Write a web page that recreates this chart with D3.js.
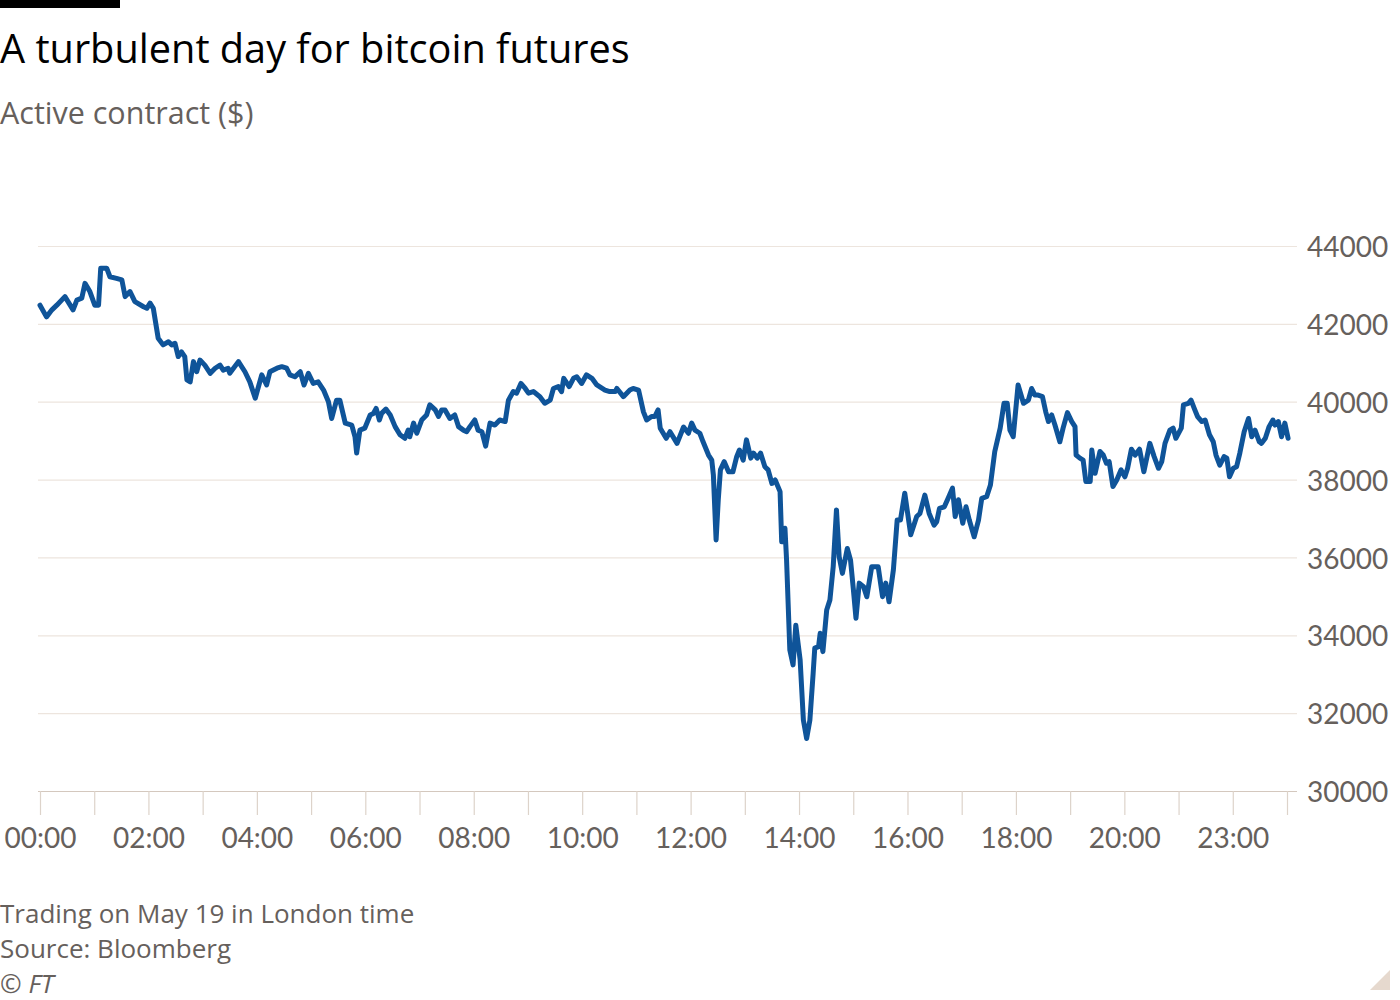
<!DOCTYPE html>
<html>
<head>
<meta charset="utf-8">
<script src="https://cdn.jsdelivr.net/npm/d3@7/dist/d3.min.js"></script>
<style>
  html, body { margin: 0; padding: 0; background: #ffffff; }
  svg { display: block; }
  text { font-family: "Open Sans", "Noto Sans", sans-serif; }
</style>
</head>
<body>
<svg id="chart" width="1400" height="1000"></svg>
<script>
// ---- Data ----
// Trading-session hours after 00:00 London time; the 22:00–23:00 break is skipped,
// so session hour 22 corresponds to 23:00.
const sessionHours = [
  0.00,0.12,0.22,0.31,0.46,0.61,0.68,0.77,0.83,0.92,1.01,1.08,1.12,1.23,1.29,1.41,1.51,1.57,1.66,1.75,
  1.91,1.97,2.03,2.09,2.18,2.27,2.37,2.43,2.49,2.55,2.61,2.67,2.71,2.77,2.83,2.89,2.95,3.04,3.14,3.23,
  3.32,3.38,3.47,3.50,3.66,3.78,3.87,3.97,4.09,4.18,4.24,4.37,4.46,4.55,4.61,4.70,4.80,4.87,4.95,5.04,
  5.13,5.23,5.32,5.38,5.47,5.53,5.63,5.75,5.81,5.84,5.90,5.99,6.09,6.15,6.20,6.26,6.30,6.38,6.46,6.55,
  6.64,6.73,6.79,6.82,6.89,6.95,7.04,7.13,7.19,7.29,7.35,7.41,7.47,7.56,7.65,7.72,7.81,7.87,7.93,8.02,
  8.08,8.15,8.22,8.30,8.39,8.48,8.58,8.64,8.73,8.79,8.87,8.95,9.01,9.10,9.22,9.31,9.41,9.47,9.56,9.62,
  9.66,9.76,9.84,9.90,9.99,10.08,10.18,10.27,10.42,10.51,10.61,10.64,10.76,10.88,10.94,11.04,11.13,11.19,11.28,11.34,
  11.40,11.44,11.55,11.62,11.75,11.87,11.96,12.02,12.08,12.17,12.23,12.33,12.39,12.42,12.47,12.51,12.55,12.62,12.70,12.78,
  12.85,12.90,12.97,13.03,13.11,13.16,13.23,13.29,13.37,13.43,13.50,13.56,13.65,13.68,13.74,13.77,13.83,13.89,13.94,14.02,
  14.08,14.14,14.20,14.26,14.29,14.36,14.39,14.44,14.51,14.57,14.63,14.69,14.74,14.80,14.89,14.95,15.00,15.05,15.11,15.19,
  15.25,15.34,15.46,15.54,15.60,15.66,15.74,15.81,15.87,15.95,16.06,16.17,16.23,16.32,16.40,16.49,16.54,16.59,16.68,16.75,
  16.83,16.88,16.94,17.02,17.08,17.14,17.23,17.31,17.37,17.46,17.53,17.61,17.71,17.78,17.84,17.89,17.95,18.04,18.14,18.23,
  18.29,18.35,18.41,18.49,18.55,18.60,18.66,18.72,18.81,18.87,18.95,19.03,19.09,19.11,19.18,19.24,19.29,19.37,19.40,19.46,
  19.55,19.61,19.67,19.72,19.79,19.86,19.94,20.01,20.06,20.13,20.20,20.28,20.36,20.47,20.55,20.63,20.69,20.75,20.84,20.90,
  20.95,21.05,21.09,21.18,21.23,21.30,21.35,21.43,21.49,21.57,21.64,21.69,21.76,21.84,21.89,21.94,22.01,22.07,22.13,22.21,
  22.29,22.35,22.41,22.49,22.53,22.60,22.67,22.74,22.78,22.84,22.90,22.96,23.02
];
const prices = [
  42480,42180,42360,42480,42700,42360,42610,42660,43040,42830,42480,42480,43430,43430,43210,43170,43130,42700,42830,42570,
  42440,42400,42530,42400,41630,41460,41540,41460,41500,41160,41280,41160,40560,40510,41030,40770,41070,40940,40730,40860,
  40940,40810,40860,40730,41030,40770,40510,40090,40690,40430,40770,40860,40900,40860,40690,40640,40770,40430,40730,40470,
  40510,40300,40000,39570,40040,40040,39450,39400,39100,38680,39270,39320,39660,39700,39830,39530,39700,39810,39660,39360,
  39150,39060,39270,39100,39450,39190,39530,39660,39920,39790,39620,39790,39790,39570,39660,39360,39270,39230,39360,39530,
  39270,39230,38860,39450,39400,39530,39490,40040,40260,40220,40470,40340,40220,40260,40130,39960,40040,40340,40390,40260,
  40600,40390,40600,40640,40470,40690,40600,40430,40300,40260,40260,40340,40130,40300,40340,40300,39740,39530,39620,39620,
  39790,39320,39060,39230,38930,39350,39190,39450,39270,39190,38970,38630,38500,38120,36450,37480,38250,38460,38200,38200,
  38590,38760,38500,39020,38550,38680,38550,38680,38330,38250,37900,37990,37690,36400,36750,35930,33620,33240,34260,33370,
  31820,31350,31820,33020,33670,33710,34050,33580,34650,34910,35760,37220,36020,35590,36230,35930,35210,34440,35340,35250,
  34990,35760,35760,34990,35340,34860,35680,36960,36960,37650,36580,37050,37130,37600,37130,36830,36920,37260,37300,37520,
  37780,37050,37480,36880,37300,36960,36530,36960,37520,37560,37860,38720,39320,39960,39960,39270,39100,40430,39960,40040,
  40340,40170,40170,40130,39740,39490,39660,39400,38970,39320,39720,39490,39360,38630,38550,38500,37950,37950,38760,38160,
  38720,38630,38420,38460,37820,37990,38250,38070,38290,38780,38630,38780,38200,38930,38590,38290,38460,38930,39270,39320,
  39060,39320,39920,39960,40040,39790,39620,39490,39530,39150,38970,38630,38370,38590,38550,38070,38290,38330,38680,39230,
  39570,39100,39270,38970,38930,39060,39360,39530,39400,39490,39100,39450,39060
];
// One tick per trading hour (no 22:00 – the session break), labels on every other tick
const tickHourLabels = ["00:00","01:00","02:00","03:00","04:00","05:00","06:00","07:00","08:00","09:00",
  "10:00","11:00","12:00","13:00","14:00","15:00","16:00","17:00","18:00","19:00","20:00","21:00","23:00","00:00"];
const shownTickLabels = ["00:00","02:00","04:00","06:00","08:00","10:00","12:00","14:00","16:00","18:00","20:00","23:00"];
const yTicks = [30000,32000,34000,36000,38000,40000,42000,44000];

const title = "A turbulent day for bitcoin futures";
const subtitle = "Active contract ($)";
const footnotes = ["Trading on May 19 in London time", "Source: Bloomberg"];
const credit = "© FT";

// ---- Drawing ----
const svg = d3.select("#chart");
const W = 1400, H = 1000;
const plotLeft = 40, plotRight = 1287, gridLeft = 38, gridRight = 1297;
const plotTop = 246, plotBottom = 791;
const axisFont = "Lato, 'Open Sans', sans-serif";

svg.append("rect").attr("width", W).attr("height", H).attr("fill", "#ffffff");
svg.append("rect").attr("x", 0).attr("y", 0).attr("width", 120).attr("height", 8).attr("fill", "#000000");

svg.append("text").attr("x", 0).attr("y", 63).attr("fill", "#000000")
  .style("font-size", "39.7px").text(title);
svg.append("text").attr("x", 0).attr("y", 124).attr("fill", "#66605c")
  .style("font-size", "30.5px").text(subtitle);

const x = d3.scaleLinear().domain([0, tickHourLabels.length - 1]).range([plotLeft, plotRight]);
const y = d3.scaleLinear().domain([30000, 44000]).range([plotBottom, plotTop]);

// y grid + labels
const yAxis = svg.append("g").attr("transform", `translate(${gridRight},0)`)
  .call(d3.axisRight(y).tickValues(yTicks).tickFormat(d3.format("d"))
    .tickSize(-(gridRight - gridLeft)).tickPadding(10));
yAxis.select(".domain").remove();
yAxis.selectAll(".tick line").attr("stroke", d => d === 30000 ? "#d4c8be" : "#ede5de").attr("stroke-width", 1.2);
yAxis.selectAll(".tick text").attr("fill", "#66605c").style("font-size", "28px")
  .style("font-family", axisFont).attr("dy", "0.38em");

// x axis
const xAxis = svg.append("g").attr("transform", `translate(0,${plotBottom})`)
  .call(d3.axisBottom(x).tickValues(d3.range(tickHourLabels.length))
    .tickFormat(i => shownTickLabels.includes(tickHourLabels[i]) && i < tickHourLabels.length - 1 ? tickHourLabels[i] : "")
    .tickSize(24).tickPadding(13));
xAxis.select(".domain").remove();
xAxis.selectAll(".tick line").attr("stroke", "#ddd3ca").attr("stroke-width", 1.2);
xAxis.selectAll(".tick text").attr("fill", "#66605c").style("font-size", "28px")
  .style("font-family", axisFont);

// line
const data = sessionHours.map((h, i) => ({ h, v: prices[i] }));
const line = d3.line().x(d => x(d.h)).y(d => y(d.v));
svg.append("path").datum(data).attr("d", line)
  .attr("fill", "none").attr("stroke", "#0f5499").attr("stroke-width", 5)
  .attr("stroke-linejoin", "round").attr("stroke-linecap", "round");

// footer
footnotes.forEach((t, i) => {
  svg.append("text").attr("x", 0).attr("y", 923 + i * 35).attr("fill", "#66605c")
    .style("font-size", "26px").text(t);
});
svg.append("text").attr("x", 0).attr("y", 993).attr("fill", "#66605c")
  .style("font-size", "26px").style("font-style", "italic").text(credit);

// corner triangle
svg.append("path").attr("d", "M1390,970 L1390,990 L1370,990 Z").attr("fill", "#e6d9ce");
</script>
</body>
</html>
